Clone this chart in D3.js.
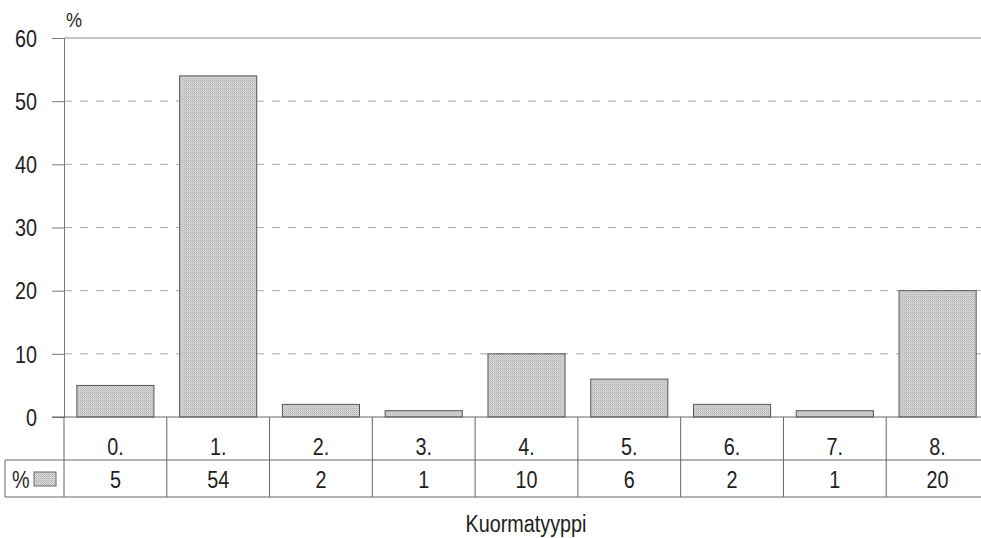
<!DOCTYPE html>
<html><head><meta charset="utf-8">
<script src="https://cdn.jsdelivr.net/npm/d3@7"></script>
<style>body{margin:0;background:#fff}svg{display:block}text{font-family:"Liberation Sans",Arial,sans-serif;fill:#1e1e1e}</style>
</head><body><svg id="c" width="981" height="538"></svg>
<script>
const categories = ["0.","1.","2.","3.","4.","5.","6.","7.","8."];
const values = [5,54,2,1,10,6,2,1,20];
const yTicks = [0,10,20,30,40,50,60];
const seriesName = "%";
const axisTitle = "Kuormatyyppi";

(function(){
const SX = 0.86;
const svg = d3.select("#c");
const mL = 64, mR = 989, mT = 38, mB = 417;
const x = d3.scaleBand().domain(categories).range([mL, mR]).paddingInner(0.25).paddingOuter(0.125);
const xc = d3.scaleBand().domain(categories).range([mL, mR]);
const y = d3.scaleLinear().domain([0,60]).range([mB, mT]);

function ntext(sel, px, py, str, size, anchor){
  return sel.append("text").attr("transform",`translate(${px},${py}) scale(${SX},1)`)
    .attr("text-anchor",anchor||"start").attr("font-size",size).text(str);
}

const defs = svg.append("defs");
const pat = defs.append("pattern").attr("id","dots").attr("width",2).attr("height",2).attr("patternUnits","userSpaceOnUse");
pat.append("rect").attr("width",2).attr("height",2).attr("fill","#d8d8d8");
pat.append("rect").attr("width",1).attr("height",1).attr("fill","#b0b0b0");
pat.append("rect").attr("x",1).attr("y",1).attr("width",1).attr("height",1).attr("fill","#c6c6c6");

svg.append("g").selectAll("line").data(yTicks.filter(t=>t>0 && t<60)).join("line")
  .attr("x1",mL).attr("x2",981).attr("y1",d=>y(d)).attr("y2",d=>y(d))
  .attr("stroke","#a8a8a8").attr("stroke-dasharray","8,8").attr("stroke-width",1);
svg.append("line").attr("x1",mL).attr("x2",981).attr("y1",y(60)).attr("y2",y(60)).attr("stroke","#8a8a8a");

const ya = d3.axisLeft(y).tickValues(yTicks).tickSize(12).tickPadding(15);
const g = svg.append("g").attr("transform",`translate(${mL},0)`).call(ya);
g.select(".domain").attr("stroke","#777");
g.selectAll(".tick line").attr("stroke","#777");
g.selectAll(".tick text").attr("font-size",23).attr("fill","#1e1e1e")
  .style("font-family",'"Liberation Sans",Arial,sans-serif')
  .attr("x",-27/SX).attr("dy","0.36em").attr("transform",`scale(${SX},1)`);

ntext(svg, 66, 27, seriesName, 21);

svg.append("g").selectAll("rect").data(values).join("rect")
  .attr("x",(d,i)=>x(categories[i])).attr("width",x.bandwidth())
  .attr("y",d=>y(d)).attr("height",d=>y(0)-y(d))
  .attr("fill","url(#dots)").attr("stroke","#555").attr("stroke-width",1);

svg.append("line").attr("x1",mL-12).attr("x2",981).attr("y1",mB).attr("y2",mB).attr("stroke","#666");

const r1 = 460, r2 = 497;
const tg = svg.append("g").attr("stroke","#666").attr("fill","none");
tg.append("line").attr("x1",5).attr("x2",981).attr("y1",r1).attr("y2",r1);
tg.append("line").attr("x1",5).attr("x2",981).attr("y1",r2).attr("y2",r2);
tg.append("line").attr("x1",5).attr("x2",5).attr("y1",r1).attr("y2",r2);
tg.selectAll(".v").data(categories).join("line").attr("class","v")
  .attr("x1",d=>xc(d)).attr("x2",d=>xc(d)).attr("y1",mB).attr("y2",r2);

const lg = svg.append("g");
categories.forEach((c,i)=>{
  ntext(lg, xc(c)+xc.bandwidth()/2, 455, c, 23, "middle");
  ntext(lg, xc(c)+xc.bandwidth()/2, 488, values[i], 23, "middle");
});

ntext(svg, 12, 488, seriesName, 23);
svg.append("rect").attr("x",34).attr("y",472).attr("width",22).attr("height",14).attr("fill","url(#dots)").attr("stroke","#666");

ntext(svg, 526, 532, axisTitle, 23, "middle");
})();
</script></body></html>
